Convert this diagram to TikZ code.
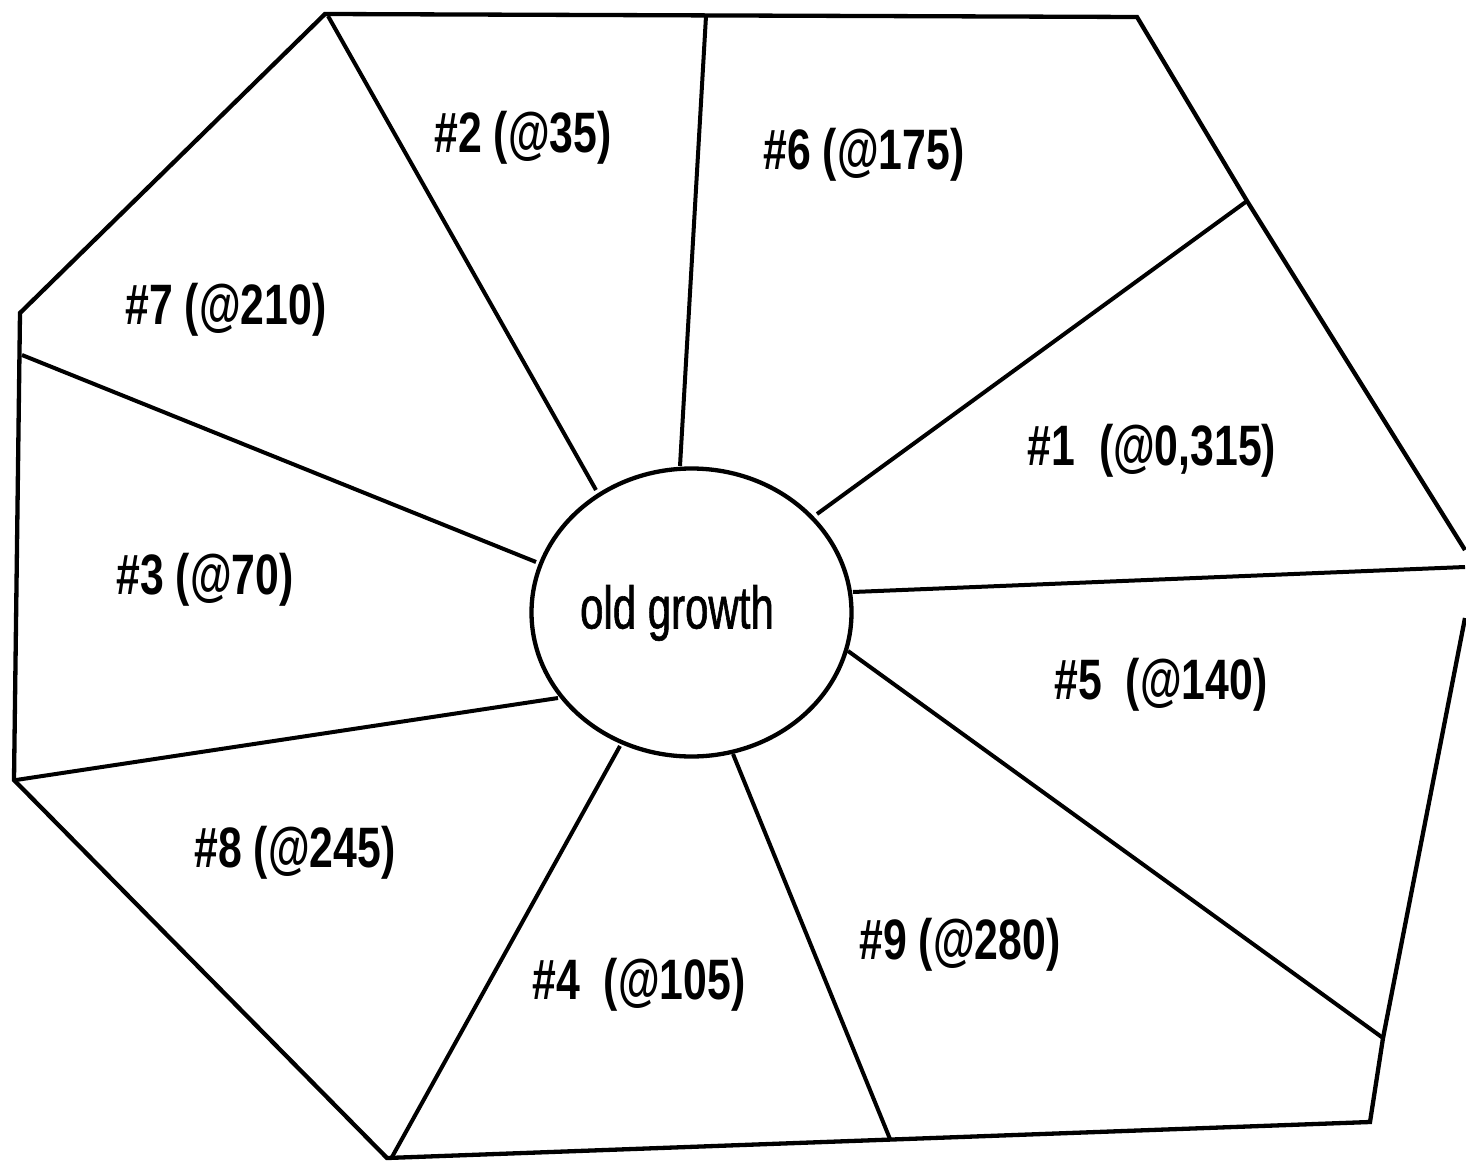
\documentclass[tikz,border=0pt]{standalone}
\usepackage{fontspec}
\usetikzlibrary{shapes.geometric}
\newfontfamily\lblfont[FakeStretch=0.75]{Liberation Sans}
\newfontfamily\ogfont[FakeStretch=0.7,FakeBold=1]{Liberation Sans}
\begin{document}
\begin{tikzpicture}[x=1pt,y=-1pt,
  edge/.style={line width=4.3pt, line join=miter},
  divider/.style={line width=4pt},
  plot/.style={font=\lblfont\bfseries\fontsize{57}{60}\selectfont, inner sep=0pt}]
\useasboundingbox (0,0) rectangle (1466,1161);
% outer polygon vertices
\coordinate (P1) at (325,14);
\coordinate (P2) at (1137,17);
\coordinate (P3) at (1247,201);
\coordinate (P4) at (1465,550);
\coordinate (Q1) at (1465,618);
\coordinate (Q2) at (1383,1038);
\coordinate (Q3) at (1370,1122);
\coordinate (Q4) at (387,1158);
\coordinate (Q5) at (14,780);
\coordinate (Q6) at (20,313);
\draw[edge] (Q1) -- (Q2) -- (Q3) -- (Q4) -- (Q5) -- (Q6) -- (P1) -- (P2) -- (P3) -- (P4);
% central ellipse
\node[draw, ellipse, line width=4.3pt, minimum width=320pt, minimum height=288pt, inner sep=0pt] (og) at (691.5,612.5) {};
\node[font=\ogfont\fontsize{60}{64}\selectfont, inner sep=0pt] (oglabel) at (677,613) {old growth};
% divider ends on the ellipse
\coordinate (c1) at (680,466);
\coordinate (c2) at (596,490);
\coordinate (c3) at (536,562);
\coordinate (c4) at (558,698);
\coordinate (c5) at (620,746);
\coordinate (c6) at (733,754);
\coordinate (c7) at (848,651);
\coordinate (c8) at (853,592);
\coordinate (c9) at (817,514);
% divider ends on the outline
\coordinate (d1) at (706,16);
\coordinate (d2) at (328,16);
\coordinate (d3) at (22,355);
\coordinate (d4) at (16,780);
\coordinate (d5) at (392,1157);
\coordinate (d6) at (890,1139);
\coordinate (d8) at (1465,567);
\draw[divider] (c1) -- (d1);
\draw[divider] (c2) -- (d2);
\draw[divider] (c3) -- (d3);
\draw[divider] (c4) -- (d4);
\draw[divider] (c5) -- (d5);
\draw[divider] (c6) -- (d6);
\draw[divider] (c7) -- (Q2);
\draw[divider] (c8) -- (d8);
\draw[divider] (c9) -- (P3);
% labels
\node[plot] (l2) at (523,138) {\#2 (@35)};
\node[plot] (l6) at (864,155) {\#6 (@175)};
\node[plot] (l7) at (226,310) {\#7 (@210)};
\node[plot] (l1) at (1152,451) {\#1\ \ (@0,315)};
\node[plot] (l3) at (205,580) {\#3 (@70)};
\node[plot] (l5) at (1161,685) {\#5\ \ (@140)};
\node[plot] (l8) at (295,853) {\#8 (@245)};
\node[plot] (l9) at (960,945) {\#9 (@280)};
\node[plot] (l4) at (639,985) {\#4\ \ (@105)};
\end{tikzpicture}
\end{document}
